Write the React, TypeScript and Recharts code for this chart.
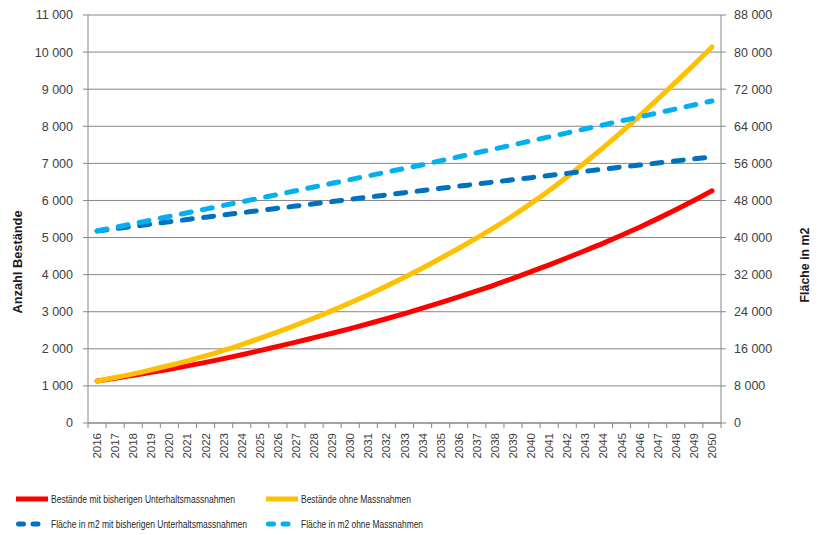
import { LineChart, Line, XAxis, YAxis, CartesianGrid } from "recharts";

// Jahre der Prognose
const years = [
  "2016", "2017", "2018", "2019", "2020", "2021", "2022", "2023", "2024", "2025",
  "2026", "2027", "2028", "2029", "2030", "2031", "2032", "2033", "2034", "2035",
  "2036", "2037", "2038", "2039", "2040", "2041", "2042", "2043", "2044", "2045",
  "2046", "2047", "2048", "2049", "2050",
];

// Anzahl Bestände (linke Achse)
const bestaendeMitUnterhalt = [
  1130, 1205, 1285, 1365, 1450, 1540, 1635, 1735, 1840, 1950,
  2065, 2180, 2300, 2420, 2545, 2675, 2810, 2950, 3095, 3245,
  3400, 3560, 3725, 3900, 4080, 4265, 4455, 4650, 4850, 5060,
  5280, 5510, 5750, 6000, 6260,
];
const bestaendeOhneMassnahmen = [
  1130, 1225, 1325, 1435, 1550, 1675, 1810, 1960, 2115, 2280,
  2455, 2640, 2830, 3030, 3240, 3460, 3690, 3930, 4180, 4440,
  4710, 4990, 5280, 5590, 5920, 6270, 6640, 7030, 7430, 7850,
  8280, 8730, 9190, 9660, 10140,
];

// Fläche in m2 (rechte Achse)
const flaecheMitUnterhalt = [
  41400, 41900, 42400, 42900, 43400, 43900, 44400, 44880, 45360, 45840,
  46320, 46800, 47280, 47760, 48240, 48720, 49200, 49680, 50160, 50620,
  51080, 51540, 52000, 52460, 52920, 53380, 53840, 54300, 54760, 55200,
  55640, 56080, 56520, 56960, 57400,
];
const flaecheOhneMassnahmen = [
  41400, 42190, 42980, 43770, 44560, 45350, 46140, 46930, 47720, 48510,
  49300, 50100, 50900, 51700, 52500, 53300, 54100, 54900, 55700, 56560,
  57420, 58280, 59140, 60000, 60860, 61720, 62580, 63440, 64300, 65160,
  66020, 66880, 67740, 68600, 69460,
];

const leftTicks = [0, 1000, 2000, 3000, 4000, 5000, 6000, 7000, 8000, 9000, 10000, 11000];
const rightTicks = [0, 8000, 16000, 24000, 32000, 40000, 48000, 56000, 64000, 72000, 80000, 88000];

const data = years.map((year, i) => ({
  year,
  mit: bestaendeMitUnterhalt[i],
  ohne: bestaendeOhneMassnahmen[i],
  flMit: flaecheMitUnterhalt[i],
  flOhne: flaecheOhneMassnahmen[i],
}));

const RED = "#FF0000";
const YELLOW = "#FFC000";
const DARK_BLUE = "#0070C0";
const LIGHT_BLUE = "#00B0F0";
const AXIS = "#868686";
const TEXT = "#404040";
const FONT = "'Liberation Sans', Arial, sans-serif";

const PLOT_LEFT = 88;
const PLOT_RIGHT = 721;
const BAND = (PLOT_RIGHT - PLOT_LEFT) / years.length;

const fmt = (v: number) => String(v).replace(/\B(?=(\d{3})+(?!\d))/g, " ");

function YearTick(props: any) {
  const { x, y, payload, index } = props;
  const ty = y + 10;
  return (
    <g>
      <line x1={x - BAND / 2} x2={x - BAND / 2} y1={y} y2={y + 5} stroke={AXIS} />
      {index === years.length - 1 && (
        <line x1={x + BAND / 2} x2={x + BAND / 2} y1={y} y2={y + 5} stroke={AXIS} />
      )}
      <text
        x={x}
        y={ty}
        transform={`rotate(-90 ${x} ${ty})`}
        textAnchor="end"
        dominantBaseline="central"
        fontSize={11.5}
        fontFamily={FONT}
        fill={TEXT}
      >
        {payload.value}
      </text>
    </g>
  );
}

function LegendRow({ y, items }: { y: number; items: { x: number; color: string; dashed: boolean; label: string; len: number }[] }) {
  return (
    <g>
      {items.map((it) => (
        <g key={it.label}>
          {it.dashed ? (
            <line x1={it.x + 2.5} x2={it.x + 29} y1={y} y2={y} stroke={it.color} strokeWidth={5}
              strokeLinecap="round" strokeDasharray="5 9.5" />
          ) : (
            <line x1={it.x} x2={it.x + 32} y1={y} y2={y} stroke={it.color} strokeWidth={5} />
          )}
          <text x={it.x + 35} y={y} dominantBaseline="central" fontSize={10.5} fontFamily={FONT}
            fill="#262626" textLength={it.len} lengthAdjust="spacingAndGlyphs">
            {it.label}
          </text>
        </g>
      ))}
    </g>
  );
}

export default function App() {
  return (
    <div style={{ position: "absolute", left: 0, top: 0, width: 824, height: 535, background: "#fff" }}>
      <LineChart
        width={824}
        height={470}
        data={data}
        margin={{ top: 15, right: 13, left: 8, bottom: 7 }}
      >
        <CartesianGrid yAxisId="left" vertical={false} stroke={AXIS} />
        <XAxis
          dataKey="year"
          interval={0}
          height={40}
          padding={{ left: BAND / 2, right: BAND / 2 }}
          axisLine={{ stroke: AXIS }}
          tickLine={false}
          tickSize={0}
          tickMargin={0}
          tick={<YearTick />}
        />
        <YAxis
          yAxisId="left"
          width={80}
          domain={[0, 11000]}
          ticks={leftTicks}
          interval={0}
          tickFormatter={fmt}
          axisLine={{ stroke: AXIS }}
          tickLine={{ stroke: AXIS }}
          tickSize={5}
          tickMargin={10}
          tick={{ fontSize: 12.5, fill: TEXT, fontFamily: FONT }}
        />
        <YAxis
          yAxisId="right"
          orientation="right"
          width={90}
          domain={[0, 88000]}
          ticks={rightTicks}
          interval={0}
          tickFormatter={fmt}
          axisLine={{ stroke: AXIS }}
          tickLine={{ stroke: AXIS }}
          tickSize={5}
          tickMargin={8}
          tick={{ fontSize: 12.5, fill: TEXT, fontFamily: FONT }}
        />
        <Line yAxisId="left" dataKey="mit" type="monotone" stroke={RED} strokeWidth={5}
          strokeLinecap="round" dot={false} activeDot={false} isAnimationActive={false} />
        <Line yAxisId="left" dataKey="ohne" type="monotone" stroke={YELLOW} strokeWidth={5}
          strokeLinecap="round" dot={false} activeDot={false} isAnimationActive={false} />
        <Line yAxisId="right" dataKey="flMit" type="monotone" stroke={DARK_BLUE} strokeWidth={5}
          strokeLinecap="round" strokeDasharray="10 11.5" dot={false} activeDot={false} isAnimationActive={false} />
        <Line yAxisId="right" dataKey="flOhne" type="monotone" stroke={LIGHT_BLUE} strokeWidth={5}
          strokeLinecap="round" strokeDasharray="10 11.5" dot={false} activeDot={false} isAnimationActive={false} />
      </LineChart>

      {/* Achsentitel */}
      <svg width={824} height={470} style={{ position: "absolute", left: 0, top: 0, pointerEvents: "none" }}>
        <text x={18} y={262} transform="rotate(-90 18 262)" textAnchor="middle" dominantBaseline="central"
          fontSize={12} fontWeight="bold" fontFamily={FONT} fill="#1a1a1a" textLength={103} lengthAdjust="spacingAndGlyphs">
          Anzahl Bestände
        </text>
        <text x={805} y={265} transform="rotate(-90 805 265)" textAnchor="middle" dominantBaseline="central"
          fontSize={12} fontWeight="bold" fontFamily={FONT} fill="#1a1a1a" textLength={75} lengthAdjust="spacingAndGlyphs">
          Fläche in m2
        </text>
      </svg>

      {/* Legende */}
      <svg width={824} height={65} style={{ position: "absolute", left: 0, top: 470 }}>
        <LegendRow
          y={29}
          items={[
            { x: 16, color: RED, dashed: false, label: "Bestände mit bisherigen Unterhaltsmassnahmen", len: 184 },
            { x: 266, color: YELLOW, dashed: false, label: "Bestände ohne Massnahmen", len: 110 },
          ]}
        />
        <LegendRow
          y={54}
          items={[
            { x: 16, color: DARK_BLUE, dashed: true, label: "Fläche in m2 mit bisherigen Unterhaltsmassnahmen", len: 196 },
            { x: 266, color: LIGHT_BLUE, dashed: true, label: "Fläche in m2 ohne Massnahmen", len: 122 },
          ]}
        />
      </svg>
    </div>
  );
}
